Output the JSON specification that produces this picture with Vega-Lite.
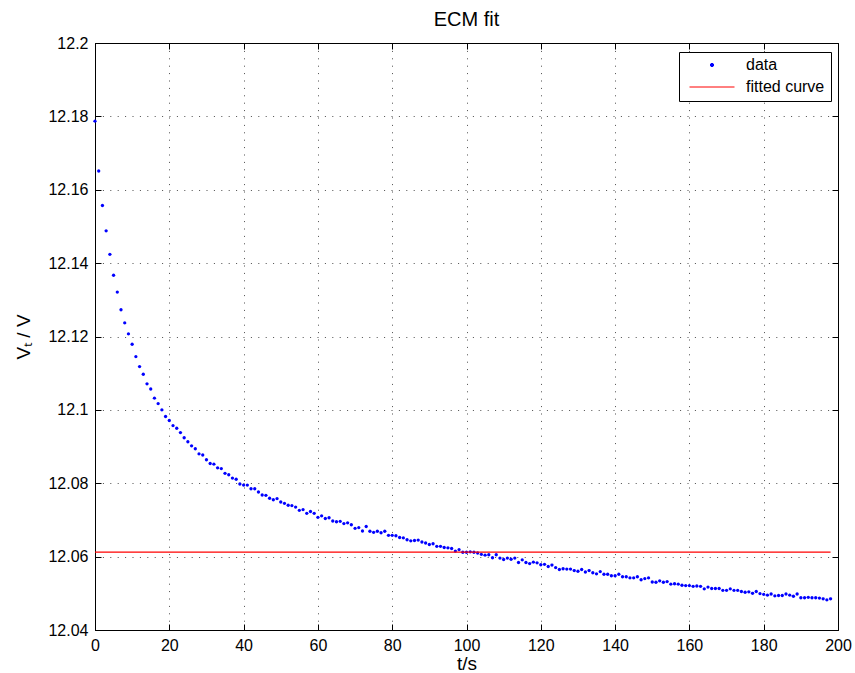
{
  "$schema": "https://vega.github.io/schema/vega-lite/v6.json",
  "autosize": {"type": "none"},
  "padding": {"left": 95, "top": 43, "right": 17, "bottom": 43},
  "width": 743,
  "height": 587,
  "background": "white",
  "title": {"text": "ECM fit", "fontSize": 20, "fontWeight": "normal", "font": "Liberation Sans", "color": "black", "offset": 5},
  "datasets": {
    "measured": [
      {"t":0,"v":12.1787},{"t":1,"v":12.1651},{"t":2,"v":12.1557},{"t":3,"v":12.1488},{"t":4,"v":12.1424},{"t":5,"v":12.1367},{"t":6,"v":12.1321},{"t":7,"v":12.1273},{"t":8,"v":12.1237},{"t":9,"v":12.1207},
      {"t":10,"v":12.1179},{"t":11,"v":12.1145},{"t":12,"v":12.1118},{"t":13,"v":12.1097},{"t":14,"v":12.1071},{"t":15,"v":12.1057},{"t":16,"v":12.1032},{"t":17,"v":12.1017},{"t":18,"v":12.1000},{"t":19,"v":12.0982},
      {"t":20,"v":12.0971},{"t":21,"v":12.0957},{"t":22,"v":12.0950},{"t":23,"v":12.0938},{"t":24,"v":12.0924},{"t":25,"v":12.0913},{"t":26,"v":12.0902},{"t":27,"v":12.0894},{"t":28,"v":12.0880},{"t":29,"v":12.0877},
      {"t":30,"v":12.0864},{"t":31,"v":12.0854},{"t":32,"v":12.0852},{"t":33,"v":12.0842},{"t":34,"v":12.0840},{"t":35,"v":12.0827},{"t":36,"v":12.0823},{"t":37,"v":12.0814},{"t":38,"v":12.0811},{"t":39,"v":12.0798},
      {"t":40,"v":12.0795},{"t":41,"v":12.0795},{"t":42,"v":12.0785},{"t":43,"v":12.0785},{"t":44,"v":12.0776},{"t":45,"v":12.0768},{"t":46,"v":12.0767},{"t":47,"v":12.0759},{"t":48,"v":12.0755},{"t":49,"v":12.0758},
      {"t":50,"v":12.0749},{"t":51,"v":12.0745},{"t":52,"v":12.0740},{"t":53,"v":12.0739},{"t":54,"v":12.0735},{"t":55,"v":12.0726},{"t":56,"v":12.0728},{"t":57,"v":12.0718},{"t":58,"v":12.0723},{"t":59,"v":12.0718},
      {"t":60,"v":12.0707},{"t":61,"v":12.0711},{"t":62,"v":12.0704},{"t":63,"v":12.0706},{"t":64,"v":12.0697},{"t":65,"v":12.0695},{"t":66,"v":12.0696},{"t":67,"v":12.0690},{"t":68,"v":12.0692},{"t":69,"v":12.0687},
      {"t":70,"v":12.0677},{"t":71,"v":12.0679},{"t":72,"v":12.0670},{"t":73,"v":12.0682},{"t":74,"v":12.0669},{"t":75,"v":12.0666},{"t":76,"v":12.0669},{"t":77,"v":12.0665},{"t":78,"v":12.0669},{"t":79,"v":12.0658},
      {"t":80,"v":12.0658},{"t":81,"v":12.0657},{"t":82,"v":12.0652},{"t":83,"v":12.0651},{"t":84,"v":12.0646},{"t":85,"v":12.0643},{"t":86,"v":12.0644},{"t":87,"v":12.0645},{"t":88,"v":12.0640},{"t":89,"v":12.0637},
      {"t":90,"v":12.0633},{"t":91,"v":12.0635},{"t":92,"v":12.0628},{"t":93,"v":12.0628},{"t":94,"v":12.0625},{"t":95,"v":12.0624},{"t":96,"v":12.0622},{"t":97,"v":12.0615},{"t":98,"v":12.0619},{"t":99,"v":12.0612},
      {"t":100,"v":12.0612},{"t":101,"v":12.0613},{"t":102,"v":12.0612},{"t":103,"v":12.0610},{"t":104,"v":12.0606},{"t":105,"v":12.0604},{"t":106,"v":12.0605},{"t":107,"v":12.0597},{"t":108,"v":12.0605},{"t":109,"v":12.0596},
      {"t":110,"v":12.0592},{"t":111,"v":12.0596},{"t":112,"v":12.0593},{"t":113,"v":12.0596},{"t":114,"v":12.0584},{"t":115,"v":12.0591},{"t":116,"v":12.0584},{"t":117,"v":12.0581},{"t":118,"v":12.0585},{"t":119,"v":12.0583},
      {"t":120,"v":12.0578},{"t":121,"v":12.0579},{"t":122,"v":12.0573},{"t":123,"v":12.0577},{"t":124,"v":12.0570},{"t":125,"v":12.0565},{"t":126,"v":12.0567},{"t":127,"v":12.0566},{"t":128,"v":12.0566},{"t":129,"v":12.0562},
      {"t":130,"v":12.0560},{"t":131,"v":12.0565},{"t":132,"v":12.0558},{"t":133,"v":12.0562},{"t":134,"v":12.0556},{"t":135,"v":12.0553},{"t":136,"v":12.0559},{"t":137,"v":12.0552},{"t":138,"v":12.0552},{"t":139,"v":12.0548},
      {"t":140,"v":12.0548},{"t":141,"v":12.0552},{"t":142,"v":12.0545},{"t":143,"v":12.0545},{"t":144,"v":12.0542},{"t":145,"v":12.0542},{"t":146,"v":12.0545},{"t":147,"v":12.0537},{"t":148,"v":12.0540},{"t":149,"v":12.0542},
      {"t":150,"v":12.0531},{"t":151,"v":12.0530},{"t":152,"v":12.0534},{"t":153,"v":12.0530},{"t":154,"v":12.0532},{"t":155,"v":12.0525},{"t":156,"v":12.0526},{"t":157,"v":12.0525},{"t":158,"v":12.0522},{"t":159,"v":12.0521},
      {"t":160,"v":12.0521},{"t":161,"v":12.0519},{"t":162,"v":12.0520},{"t":163,"v":12.0519},{"t":164,"v":12.0512},{"t":165,"v":12.0517},{"t":166,"v":12.0513},{"t":167,"v":12.0513},{"t":168,"v":12.0513},{"t":169,"v":12.0508},
      {"t":170,"v":12.0508},{"t":171,"v":12.0512},{"t":172,"v":12.0508},{"t":173,"v":12.0508},{"t":174,"v":12.0505},{"t":175,"v":12.0503},{"t":176,"v":12.0504},{"t":177,"v":12.0500},{"t":178,"v":12.0505},{"t":179,"v":12.0499},
      {"t":180,"v":12.0497},{"t":181,"v":12.0495},{"t":182,"v":12.0498},{"t":183,"v":12.0493},{"t":184,"v":12.0494},{"t":185,"v":12.0494},{"t":186,"v":12.0498},{"t":187,"v":12.0495},{"t":188,"v":12.0492},{"t":189,"v":12.0498},
      {"t":190,"v":12.0488},{"t":191,"v":12.0488},{"t":192,"v":12.0489},{"t":193,"v":12.0488},{"t":194,"v":12.0488},{"t":195,"v":12.0487},{"t":196,"v":12.0485},{"t":197,"v":12.0482},{"t":198,"v":12.0485}
    ],
    "fit": [{"t": 0, "v": 12.0612}, {"t": 198, "v": 12.0612}]
  },
  "layer": [
    {
      "data": {"name": "measured"},
      "mark": {"type": "point", "filled": true, "size": 2025, "opacity": 1, "clip": false},
      "encoding": {
        "x": {"field": "t", "type": "quantitative", "scale": {"domain": [0, 200], "nice": false, "zero": false},
              "axis": {"values": [0,20,40,60,80,100,120,140,160,180,200], "title": "t/s", "titlePadding": 1}},
        "y": {"field": "v", "type": "quantitative", "scale": {"domain": [12.04, 12.2], "nice": false, "zero": false},
              "axis": {"values": [12.04,12.06,12.08,12.1,12.12,12.14,12.16,12.18,12.2], "format": ".2~f", "title": "Vₜ / V", "titlePadding": 14}},
        "shape": {"datum": "data", "type": "nominal",
                  "scale": {"domain": ["data", "fitted curve"],
                            "range": ["M0.075,0L0.053,0.053L0,0.075L-0.053,0.053L-0.075,0L-0.053,-0.053L0,-0.075L0.053,-0.053Z", "M-1,0L1,0"]},
                  "legend": {
                    "orient": "none", "legendX": 584, "legendY": 9, "title": null,
                    "symbolSize": 2025, "symbolStrokeWidth": 1,
                    "clipHeight": 14, "rowPadding": 6, "padding": 6,
                    "symbolOffset": 4, "labelOffset": 11,
                    "labelFont": "Liberation Sans", "labelFontSize": 16, "labelColor": "black",
                    "strokeColor": "black", "fillColor": "white", "cornerRadius": 0
                  }},
        "color": {"datum": "data", "type": "nominal",
                  "scale": {"domain": ["data", "fitted curve"], "range": ["#0000ff", "#ff0000"]},
                  "legend": {
                    "orient": "none", "legendX": 584, "legendY": 9, "title": null,
                    "symbolSize": 2025, "symbolStrokeWidth": 1,
                    "clipHeight": 14, "rowPadding": 6, "padding": 6,
                    "symbolOffset": 4, "labelOffset": 11,
                    "labelFont": "Liberation Sans", "labelFontSize": 16, "labelColor": "black",
                    "strokeColor": "black", "fillColor": "white", "cornerRadius": 0
                  }}
      }
    },
    {
      "data": {"name": "fit"},
      "mark": {"type": "line", "strokeWidth": 1.2},
      "encoding": {
        "x": {"field": "t", "type": "quantitative",
              "axis": {"orient": "top", "values": [0,20,40,60,80,100,120,140,160,180,200], "labels": false, "title": null, "grid": false, "domain": false}},
        "y": {"field": "v", "type": "quantitative",
              "axis": {"orient": "right", "values": [12.04,12.06,12.08,12.1,12.12,12.14,12.16,12.18,12.2], "labels": false, "title": null, "grid": false, "domain": false}},
        "color": {"datum": "fitted curve", "type": "nominal"}
      }
    }
  ],
  "resolve": {"axis": {"x": "independent", "y": "independent"}},
  "config": {
    "font": "Liberation Sans",
    "view": {"stroke": "black", "strokeWidth": 1},
    "axis": {
      "domainColor": "black", "domainWidth": 1,
      "tickColor": "black", "tickSize": -6, "tickWidth": 1,
      "labelFontSize": 16, "labelColor": "black", "labelPadding": 13, "labelFlush": false, "labelOverlap": false,
      "titleFontSize": 19, "titleFontWeight": "normal", "titleColor": "black",
      "grid": true, "gridColor": "black", "gridOpacity": 0.7, "gridDash": [1, 6.4], "gridWidth": 1
    }
  }
}
